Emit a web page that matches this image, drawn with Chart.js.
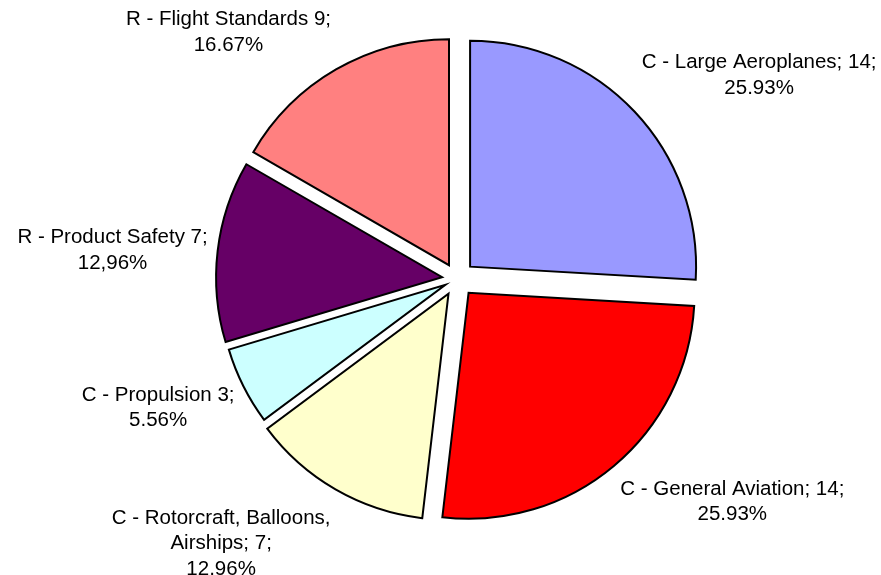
<!DOCTYPE html>
<html>
<head>
<meta charset="utf-8">
<script src="https://cdn.jsdelivr.net/npm/chart.js@4/dist/chart.umd.min.js"></script>
<style>
  html, body { margin: 0; padding: 0; background: #ffffff; }
  #wrap { width: 881px; height: 575px; position: relative; }
</style>
</head>
<body>
<div id="wrap"><canvas id="pie"></canvas></div>
<script>
// categories and values (count per area)
const categories = [
  'C - Large Aeroplanes',
  'C - General Aviation',
  'C - Rotorcraft, Balloons, Airships',
  'C - Propulsion',
  'R - Product Safety',
  'R - Flight Standards'
];
const counts = [14, 14, 7, 3, 7, 9];
// label text as printed next to each slice
const labelLines = [
  ['C - Large Aeroplanes; 14;', '25.93%'],
  ['C - General Aviation; 14;', '25.93%'],
  ['C - Rotorcraft, Balloons,', 'Airships; 7;', '12,96%'],
  ['C - Propulsion 3;', '5.56%'],
  ['R - Product Safety 7;', '12,96%'],
  ['R - Flight Standards 9;', '16.67%']
];
const sliceColors = ['#9999ff', '#ff0000', '#ffffcc', '#ccffff', '#660066', '#ff8080'];

// explode distance (px) per slice and small label tweaks
const explode = [18, 18, 17, 13, 15, 16];
const labelShiftY = [-4, 3, 7, 0, 5, -3];

const FONT = '20.5px "Liberation Sans", Arial, sans-serif';
const LINE_H = 25.5;

// pulls every slice out along its middle angle (no radius change)
const explodeSlices = {
  id: 'explodeSlices',
  beforeDatasetDraw(chart, args) {
    const ctx = chart.ctx;
    const meta = args.meta;
    meta.data.forEach((arc, i) => {
      const p = arc.getProps(['startAngle', 'endAngle']);
      const mid = (p.startAngle + p.endAngle) / 2;
      ctx.save();
      ctx.translate(Math.cos(mid) * explode[i], Math.sin(mid) * explode[i]);
      arc.draw(ctx);
      ctx.restore();
    });
    return false;
  }
};

// draws the outside labels next to each slice
const outsideLabels = {
  id: 'outsideLabels',
  afterDatasetsDraw(chart) {
    const ctx = chart.ctx;
    const meta = chart.getDatasetMeta(0);
    ctx.save();
    ctx.font = FONT;
    ctx.fillStyle = '#000000';
    ctx.textAlign = 'center';
    ctx.textBaseline = 'middle';
    meta.data.forEach((arc, i) => {
      const p = arc.getProps(['x', 'y', 'startAngle', 'endAngle', 'outerRadius']);
      const mid = (p.startAngle + p.endAngle) / 2;
      const dx = Math.cos(mid), dy = Math.sin(mid);
      const dist = p.outerRadius + explode[i] + 10;
      const ax = p.x + dx * dist;
      const ay = p.y + dy * dist;
      const lines = labelLines[i];
      const w = Math.max(...lines.map(l => ctx.measureText(l).width));
      const h = lines.length * LINE_H;
      const cx = ax + (dx >= 0 ? w / 2 : -w / 2);
      const cy = ay + (h / 2) * Math.max(-1, Math.min(1, dy * 1.5)) + labelShiftY[i];
      lines.forEach((l, k) => {
        ctx.fillText(l, cx, cy - h / 2 + LINE_H * (k + 0.5));
      });
    });
    ctx.restore();
  }
};

new Chart(document.getElementById('pie'), {
  type: 'pie',
  data: {
    labels: categories,
    datasets: [{
      data: counts,
      backgroundColor: sliceColors,
      borderColor: '#000000',
      borderWidth: 2,
      borderJoinStyle: 'miter'
    }]
  },
  options: {
    responsive: true,
    maintainAspectRatio: false,
    animation: false,
    events: [],
    radius: 226,
    layout: { padding: { left: 60, right: 27, top: 20, bottom: 37 } },
    plugins: {
      legend: { display: false },
      tooltip: { enabled: false }
    }
  },
  plugins: [explodeSlices, outsideLabels]
});
</script>
</body>
</html>
